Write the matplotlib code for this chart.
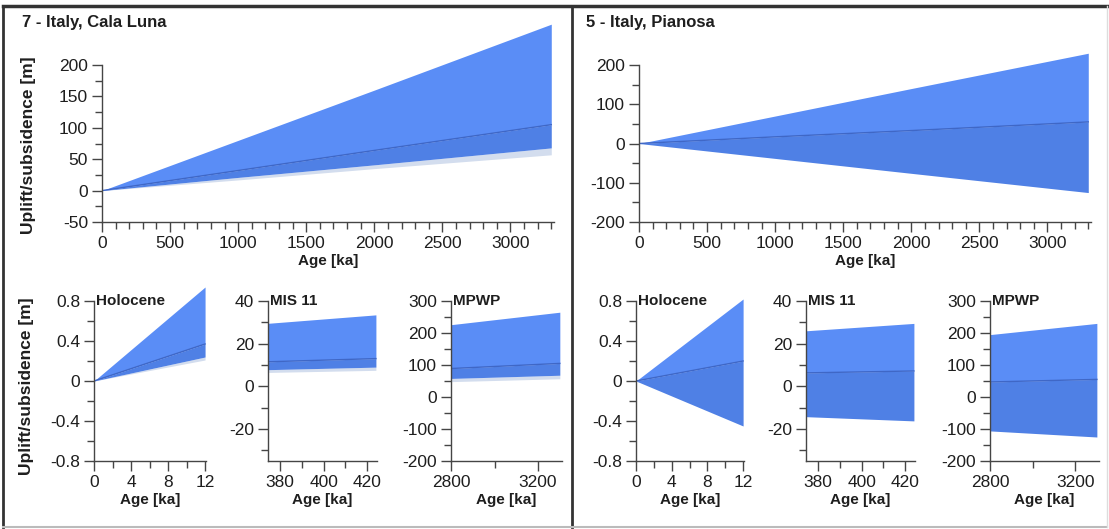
import matplotlib
matplotlib.use("Agg")
import numpy as np
import matplotlib.pyplot as plt
from matplotlib.ticker import FuncFormatter
from matplotlib.lines import Line2D

plt.rcParams['font.family'] = ['Liberation Sans', 'DejaVu Sans']
plt.rcParams['axes.unicode_minus'] = False

# ---------------- data ----------------
sites = ["7 - Italy, Cala Luna", "5 - Italy, Pianosa"]
window_names = ["Holocene", "MIS 11", "MPWP"]

# main panels (age in ka)
main_age = [0, 1000, 2000, 3300]
cl_upper = [0, 80, 160, 265]
cl_median = [0, 32, 64, 105]
cl_lower = [0, 21, 41, 68]
cl_gray = [0, 17, 35, 57]

pi_upper = [0, 70, 140, 230]
pi_median = [0, 17, 33, 55]
pi_lower = [0, -38, -76, -125]

# windows
hol_age = [0, 12]
mis_age = [374, 424]
mpwp_age = [2800, 3300]

cl_hol_upper = [0, 0.94]
cl_hol_median = [0, 0.37]
cl_hol_lower = [0, 0.24]
cl_hol_gray = [0, 0.21]

cl_mis_upper = [29.5, 33.5]
cl_mis_median = [11.5, 13.0]
cl_mis_lower = [7.8, 9.0]
cl_mis_gray = [6.5, 7.5]

cl_mpwp_upper = [226, 265]
cl_mpwp_median = [89, 105]
cl_mpwp_lower = [58, 68]
cl_mpwp_gray = [48, 57]

pi_hol_upper = [0, 0.82]
pi_hol_median = [0, 0.2]
pi_hol_lower = [0, -0.45]

pi_mis_upper = [26, 29.5]
pi_mis_median = [6.3, 7.2]
pi_mis_lower = [-14.2, -16.2]

pi_mpwp_upper = [195, 230]
pi_mpwp_median = [47, 55]
pi_mpwp_lower = [-106, -125]

# ---------------- style ----------------
LIGHT = "#5a8df6"
DARK = "#4f80e5"
MEDLINE = "#3f67c6"
GRAY = "#d3ddee"
AXC = "#454545"
TXT = "#1e1e1e"
TICKFS = 12.5
LABFS = 11

W, H = 1109, 529
fig = plt.figure(figsize=(W / 100, H / 100), dpi=100)


def rng(lo, hi, step):
    n0 = int(np.ceil(lo / step - 1e-9))
    n1 = int(np.floor(hi / step + 1e-9))
    return [round(k * step, 6) for k in range(n0, n1 + 1)]


def make_ax(x0, x1, y_top_ax, y_tick_top, y_bot, xlim, ybot, ytop_tick,
            xmaj, xmin, ymaj, ymin):
    ax = fig.add_axes([x0 / W, 1 - y_bot / H, (x1 - x0) / W, (y_bot - y_top_ax) / H])
    ytop = ybot + (ytop_tick - ybot) * (y_bot - y_top_ax) / (y_bot - y_tick_top)
    ax.set_xlim(*xlim)
    ax.set_ylim(ybot, ytop)
    ax.patch.set_alpha(0)
    for s in ("top", "right"):
        ax.spines[s].set_visible(False)
    for s in ("left", "bottom"):
        ax.spines[s].set_color(AXC)
        ax.spines[s].set_linewidth(1.0)
    ax.spines["left"].set_bounds(ybot, ytop_tick)
    ax.spines["bottom"].set_bounds(*xlim)
    ax.set_xticks(rng(xlim[0], xlim[1], xmaj))
    ax.set_xticks(rng(xlim[0], xlim[1], xmin), minor=True)
    ax.set_yticks(rng(ybot, ytop_tick, ymaj))
    ax.set_yticks(rng(ybot, ytop_tick, ymin), minor=True)
    ax.tick_params(which="both", direction="out", color=AXC, width=1.0,
                   labelcolor=TXT, labelsize=TICKFS)
    ax.tick_params(which="major", length=7, pad=3)
    ax.tick_params(which="minor", length=5)
    ax.yaxis.set_major_formatter(FuncFormatter(lambda v, p: f"{v:g}"))
    ax.xaxis.set_major_formatter(FuncFormatter(lambda v, p: f"{v:g}"))
    ax.set_xlabel("Age [ka]", fontsize=LABFS, fontweight="bold", color=TXT, labelpad=2)
    return ax


def bands(ax, x, up, med, low, gray=None):
    if gray is not None:
        ax.fill_between(x, gray, low, color=GRAY, lw=0)
    ax.fill_between(x, low, med, color=DARK, lw=0)
    ax.fill_between(x, med, up, color=LIGHT, lw=0)
    ax.plot(x, med, color=MEDLINE, lw=1.0)


# main panels
main_cfg = [
    dict(x0=102, x1=554, ybot=-50, ytop=200, ymaj=50, ymin=25,
         data=(cl_upper, cl_median, cl_lower, cl_gray)),
    dict(x0=639, x1=1091, ybot=-200, ytop=200, ymaj=100, ymin=50,
         data=(pi_upper, pi_median, pi_lower, None)),
]
main_axes = []
for cfg in main_cfg:
    ax = make_ax(cfg["x0"], cfg["x1"], 24, 65, 222, (0, 3320), cfg["ybot"], cfg["ytop"],
                 500, 100, cfg["ymaj"], cfg["ymin"])
    bands(ax, main_age, *cfg["data"])
    main_axes.append(ax)

main_axes[0].set_ylabel("Uplift/subsidence [m]", fontsize=12.5, fontweight="bold", color=TXT)
main_axes[0].yaxis.set_label_coords(-0.146, 0.39)

# small windows
small_x = [
    [(94, 206), (268, 377), (451, 562)],
    [(636, 744), (806, 915), (990, 1099)],
]
win_cfg = [
    dict(xlim=(0, 12.1), xmaj=4, xmin=2, ybot=-0.8, ytop=0.8, ymaj=0.4, ymin=0.2),
    dict(xlim=(374.5, 424.5), xmaj=20, xmin=10, ybot=-35, ytop=40, ymaj=20, ymin=10),
    dict(xlim=(2800, 3310), xmaj=400, xmin=200, ybot=-200, ytop=300, ymaj=100, ymin=50),
]
win_ages = [hol_age, mis_age, mpwp_age]
win_data = [
    [(cl_hol_upper, cl_hol_median, cl_hol_lower, cl_hol_gray),
     (cl_mis_upper, cl_mis_median, cl_mis_lower, cl_mis_gray),
     (cl_mpwp_upper, cl_mpwp_median, cl_mpwp_lower, cl_mpwp_gray)],
    [(pi_hol_upper, pi_hol_median, pi_hol_lower, None),
     (pi_mis_upper, pi_mis_median, pi_mis_lower, None),
     (pi_mpwp_upper, pi_mpwp_median, pi_mpwp_lower, None)],
]
for si in range(2):
    for wi in range(3):
        cfg = win_cfg[wi]
        x0, x1 = small_x[si][wi]
        ax = make_ax(x0, x1, 283, 301, 461, cfg["xlim"], cfg["ybot"], cfg["ytop"],
                     cfg["xmaj"], cfg["xmin"], cfg["ymaj"], cfg["ymin"])
        bands(ax, win_ages[wi], *win_data[si][wi])
        ax.text(0.02, cfg["ytop"], window_names[wi], fontsize=LABFS, fontweight="bold",
                color=TXT, va="center", ha="left",
                transform=ax.get_yaxis_transform())
        if si == 0 and wi == 0:
            ax.set_ylabel("Uplift/subsidence [m]", fontsize=12.5, fontweight="bold", color=TXT)
            ax.yaxis.set_label_coords(-0.536, 0.42)

# titles
fig.text(22 / W, 1 - 22 / H, sites[0], fontsize=12, fontweight="bold", color=TXT, va="center")
fig.text(586 / W, 1 - 22 / H, sites[1], fontsize=12, fontweight="bold", color=TXT, va="center")


# frame lines
def fline(xs, ys, color, lw):
    fig.add_artist(Line2D([x / W for x in xs], [1 - y / H for y in ys], color=color, lw=lw))


fline([3, 1107], [6, 6], "#333333", 2.5)
fline([3, 3], [6, 527], "#333333", 2.0)
fline([572, 572], [6, 527], "#333333", 2.0)
fline([3, 1107], [527, 527], "#bbbbbb", 1.5)
fline([1107, 1107], [6, 527], "#dddddd", 1.0)

fig.savefig("out.png", dpi=100)
